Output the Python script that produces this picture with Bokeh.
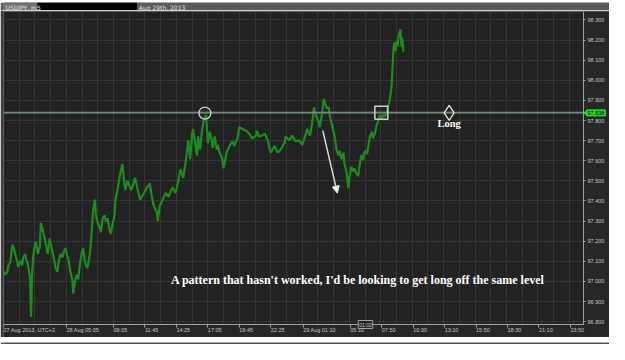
from bokeh.plotting import figure
from bokeh.models import (Label, LabelSet, Arrow, NormalHead, FixedTicker,
                          NumeralTickFormatter, Range1d, ColumnDataSource)
from bokeh.layouts import column
from bokeh.embed import file_html
from bokeh.resources import INLINE

# ---- data (minutes from 28 Aug 00:00, UTC+2) ----
times = [-15, -5, 5, 10, 20, 30, 35, 45, 55, 60, 70, 80, 85, 95, 100, 110, 120, 125, 130, 135,
         145, 150, 160, 170, 175, 185, 195, 200, 210, 220, 225, 235, 245, 250, 260, 265, 275, 285,
         290, 300, 310, 315, 325, 335, 340, 350, 360, 365, 375, 385, 390, 400, 410, 415, 425, 430,
         440, 450, 455, 465, 475, 480, 490, 500, 505, 515, 525, 530, 540, 550, 555, 565, 575, 580,
         590, 600, 605, 615, 635, 655, 665, 680, 700, 715, 730, 740, 750, 765, 770, 780, 795, 810,
         825, 845, 860, 875, 885, 900, 910, 920, 925, 935, 945, 950, 960, 970, 975, 985, 995, 1005,
         1015, 1020, 1025, 1035, 1045, 1050, 1060, 1070, 1075, 1085, 1095, 1100, 1105, 1120, 1135,
         1150, 1160, 1175, 1185, 1200, 1220, 1235, 1250, 1270, 1275, 1285, 1300, 1315, 1330, 1340,
         1345, 1365, 1380, 1395, 1415, 1420, 1440, 1455, 1470, 1490, 1505, 1520, 1530, 1545, 1555,
         1565, 1570, 1580, 1590, 1595, 1605, 1615, 1620, 1630, 1640, 1645, 1655, 1665, 1670, 1680,
         1690, 1695, 1705, 1715, 1720, 1730, 1740, 1745, 1755, 1765, 1770, 1780, 1790, 1795, 1805,
         1815, 1820, 1830, 1835, 1840, 1850, 1860, 1865, 1875, 1885, 1890, 1900, 1910, 1915, 1925,
         1935, 1940, 1950, 1960, 1965, 1970, 1975, 1980, 1985, 1990, 1995, 2005, 2010, 2015, 2020]
prices = [97.049, 97.034, 97.049, 97.080, 97.096, 97.182, 97.174, 97.136, 97.096, 97.072, 97.104,
          97.080, 97.119, 97.136, 97.113, 97.080, 97.020, 96.823, 97.020, 97.113, 97.189, 97.197,
          97.136, 97.174, 97.291, 97.253, 97.213, 97.189, 97.136, 97.213, 97.189, 97.143, 97.096,
          97.066, 97.049, 97.096, 97.136, 97.119, 97.143, 97.166, 97.127, 97.113, 97.049, 97.010,
          96.940, 97.010, 97.034, 97.010, 97.096, 97.150, 97.166, 97.096, 97.066, 97.080, 97.143,
          97.197, 97.345, 97.407, 97.329, 97.291, 97.267, 97.244, 97.314, 97.329, 97.300, 97.314,
          97.253, 97.236, 97.283, 97.329, 97.407, 97.454, 97.516, 97.540, 97.585, 97.487, 97.454,
          97.501, 97.454, 97.515, 97.468, 97.407, 97.440, 97.468, 97.487, 97.421, 97.375, 97.347,
          97.300, 97.375, 97.407, 97.440, 97.421, 97.468, 97.440, 97.501, 97.557, 97.515, 97.580,
          97.655, 97.702, 97.608, 97.735, 97.758, 97.688, 97.627, 97.721, 97.655, 97.749, 97.805,
          97.828, 97.767, 97.688, 97.744, 97.702, 97.664, 97.721, 97.655, 97.679, 97.641, 97.618,
          97.594, 97.562, 97.641, 97.674, 97.697, 97.674, 97.711, 97.767, 97.758, 97.749, 97.735,
          97.711, 97.725, 97.749, 97.721, 97.725, 97.735, 97.702, 97.655, 97.641, 97.674, 97.641,
          97.655, 97.688, 97.721, 97.702, 97.725, 97.697, 97.702, 97.679, 97.721, 97.758, 97.725,
          97.781, 97.865, 97.842, 97.814, 97.791, 97.767, 97.828, 97.907, 97.889, 97.861, 97.865,
          97.828, 97.781, 97.744, 97.721, 97.655, 97.627, 97.650, 97.608, 97.641, 97.585, 97.548,
          97.464, 97.515, 97.571, 97.548, 97.562, 97.538, 97.524, 97.562, 97.627, 97.604, 97.641,
          97.650, 97.632, 97.664, 97.721, 97.744, 97.711, 97.735, 97.781, 97.795, 97.828, 97.805,
          97.828, 97.819, 97.837, 97.861, 97.898, 97.968, 98.071, 98.155, 98.188, 98.146, 98.193,
          98.169, 98.216, 98.253, 98.169, 98.211, 98.141]

x_tick_minutes = [-15, 305, 545, 705, 865, 1025, 1185, 1345, 1510, 1750, 1910, 2070, 2230,
                  2390, 2550, 2710, 2870]
x_tick_labels = ["27 Aug 2013, UTC+2", "28 Aug 05:05", "09:05", "11:45", "14:25", "17:05",
                 "19:45", "22:25", "29 Aug 01:10", "05:10", "07:50", "10:30", "13:10", "15:50",
                 "18:30", "21:10", "23:50"]
y_ticks = [96.8, 96.9, 97.0, 97.1, 97.2, 97.3, 97.4, 97.5, 97.6, 97.7, 97.8, 97.9, 98.0, 98.1,
           98.2, 98.3]

level = 97.838
circle_pt = (1010, 97.837)
square_pt = (1908, 97.839)
long_pt = (2253, 97.838)
long_text_pos = (2253, 97.783)
arrow_from = (1610, 97.750)
arrow_to = (1684, 97.439)
note_pos = (837, 97.006)
note = "A pattern that hasn't worked, I'd be looking to get long off the same level"
cursor_time = (1827, "01:02")
symbol = "USDJPY, m5"
date_text = "Aug 29th, 2013"

# visible chart window (data units) and the extra room kept for the axes' labels
X0, X1 = -15, 2937
Y0, Y1 = 96.786, 98.342
X2 = 3069      # right end incl. price-label strip
YB = 96.7214   # bottom incl. time-label strip

W = 609
BG = "#222222"
GRID = "#353535"
STRIP = "#272727"
TXT = "#c8c8c8"
AX = "#a0a0a0"

# ---- header strip ----
hdr = figure(width=W, height=10, x_range=Range1d(0, W), y_range=Range1d(0, 10),
             output_backend="svg", toolbar_location=None, min_border=0)
hdr.axis.visible = False
hdr.grid.visible = False
hdr.outline_line_color = None
hdr.background_fill_color = "#5a5a5a"
hdr.border_fill_color = "#5a5a5a"
hdr.quad(left=[0], right=[34], bottom=[0], top=[10], fill_color="#707070", line_color=None)
hdr.quad(left=[34], right=[134], bottom=[0], top=[10], fill_color="#000000", line_color=None)
hdr.add_layout(Label(x=2, y=5, text=symbol, text_font="DejaVu Sans", text_font_size="6px",
                     text_color="#e8e8e8", text_baseline="middle"))
hdr.add_layout(Label(x=136, y=5, text=date_text, text_font="DejaVu Sans",
                     text_font_size="6px", text_color="#e0e0e0", text_baseline="middle"))

# ---- main chart ----
p = figure(width=W, height=327, x_range=Range1d(X0, X2), y_range=Range1d(YB, Y1),
           output_backend="svg", toolbar_location=None, y_axis_location="right",
           min_border_left=3, min_border_right=0, min_border_top=1, min_border_bottom=0)
p.background_fill_color = BG
p.border_fill_color = "#3c3c3c"
p.outline_line_color = None

p.xaxis.fixed_location = Y0
p.xaxis.bounds = (X0, X1)
p.xaxis.ticker = FixedTicker(ticks=x_tick_minutes)
p.xaxis.major_label_overrides = {t: "" for t in x_tick_minutes}
p.xaxis.major_label_text_color = None
p.xaxis.major_tick_out = 3
p.xaxis.major_tick_in = 0
p.xaxis.minor_tick_line_color = None
p.xaxis.axis_line_color = AX
p.xaxis.major_tick_line_color = AX

p.yaxis.fixed_location = X1
p.yaxis.bounds = (Y0, Y1)
p.yaxis.ticker = FixedTicker(ticks=y_ticks)
p.yaxis.formatter = NumeralTickFormatter(format="0.000")
p.yaxis.major_label_text_font_size = "5.5px"
p.yaxis.major_label_text_color = TXT
p.yaxis.major_label_standoff = 2
p.yaxis.major_tick_out = 2
p.yaxis.major_tick_in = 0
p.yaxis.minor_tick_line_color = None
p.yaxis.axis_line_color = AX
p.yaxis.major_tick_line_color = AX

p.xgrid.ticker = FixedTicker(ticks=list(range(65, X1, 80)))
p.xgrid.grid_line_color = GRID
p.ygrid.grid_line_color = GRID

# strips that hold the axis labels (cover the grid there)
p.quad(left=[X1, X0], right=[X2, X2], bottom=[YB, YB], top=[Y1, Y0],
       fill_color=STRIP, line_color=None)

# time labels: left-aligned at each tick, just below the time axis
lab_y = Y0 - 0.026
xlab_src = ColumnDataSource(dict(x=x_tick_minutes, y=[lab_y] * len(x_tick_minutes),
                                 text=x_tick_labels))
p.add_layout(LabelSet(x="x", y="y", text="text", source=xlab_src,
                      text_font_size="5.5px", text_color=TXT, text_align="left",
                      text_baseline="middle", x_offset=0))

p.line(times, prices, line_color="#1c8c1c", line_width=2.2)

# horizontal level (purple over green)
p.segment(x0=[X0], x1=[X1], y0=[level - 0.002], y1=[level - 0.002],
          line_color="#2a962a", line_width=1)
p.segment(x0=[X0], x1=[X1], y0=[level + 0.003], y1=[level + 0.003],
          line_color="#b87ad0", line_width=1.1)

p.scatter([circle_pt[0]], [circle_pt[1]], marker="circle", size=12, fill_alpha=0,
          line_color="#d0d0d0", line_width=1.3)
p.scatter([square_pt[0]], [square_pt[1]], marker="square", size=13, fill_alpha=0,
          line_color="#d0d0d0", line_width=1.5)
p.scatter([long_pt[0]], [long_pt[1]], marker="diamond", size=15, fill_alpha=0,
          line_color="#e8e8e8", line_width=1.3)

p.add_layout(Arrow(end=NormalHead(size=7, fill_color="#eeeeee", line_color="#eeeeee"),
                   x_start=arrow_from[0], y_start=arrow_from[1],
                   x_end=arrow_to[0], y_end=arrow_to[1],
                   line_color="#d8d8d8", line_width=1.5))

p.add_layout(Label(x=long_text_pos[0], y=long_text_pos[1], text="Long",
                   text_font="Liberation Serif", text_font_style="bold", text_font_size="10.5px",
                   text_color="#ffffff", text_align="center", text_baseline="middle"))
p.add_layout(Label(x=note_pos[0], y=note_pos[1], text=note,
                   text_font="Liberation Serif", text_font_style="bold", text_font_size="12px",
                   text_color="#ffffff", text_align="left", text_baseline="middle"))

# current price tag on the price axis
p.scatter([X1 + 12], [level], marker="triangle", angle=1.5708, size=6,
          fill_color="#22e022", line_color=None)
p.add_layout(Label(x=X1, y=level, x_offset=3, text="97.838", text_font_size="5.5px",
                   text_color="#000000", text_baseline="middle", text_align="left",
                   background_fill_color="#22e022", border_line_color="#22e022",
                   padding=1))
# crosshair time tag on the time axis
p.add_layout(Label(x=cursor_time[0], y=Y0, text=cursor_time[1], text_font_size="5px",
                   text_color=TXT, text_baseline="middle", text_align="center",
                   background_fill_color="#262626", border_line_color=AX,
                   padding=1))

# ---- footer strip ----
ftr = figure(width=W, height=7, x_range=Range1d(0, W), y_range=Range1d(0, 7),
             output_backend="svg", toolbar_location=None, min_border=0)
ftr.axis.visible = False
ftr.grid.visible = False
ftr.outline_line_color = None
ftr.background_fill_color = "#4e4e4e"
ftr.border_fill_color = "#4e4e4e"
ftr.quad(left=[556], right=[597], bottom=[2], top=[5.5], fill_color="#a8a8a8", line_color=None)
ftr.scatter([604], [3.7], marker="triangle", angle=-1.5708, size=5, fill_color="#9a9a9a",
            line_color=None)
ftr.scatter([3], [3.7], marker="triangle", angle=1.5708, size=4, fill_color="#9a9a9a",
            line_color=None)

layout = column(hdr, p, ftr, spacing=0)
open("out.html", "w").write(file_html(layout, INLINE))
